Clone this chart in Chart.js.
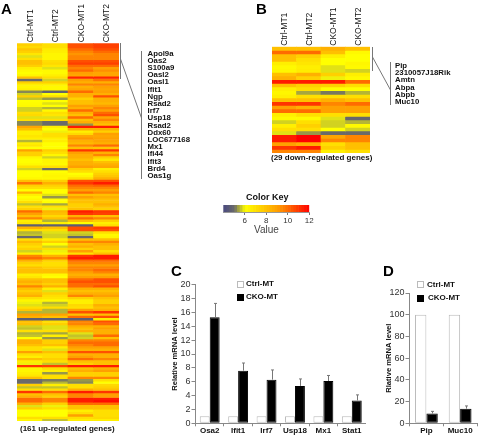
<!DOCTYPE html>
<html>
<head>
<meta charset="utf-8">
<script src="https://cdn.jsdelivr.net/npm/chart.js@4"></script>
<style>
html,body{margin:0;padding:0;background:#fff;width:478px;height:435px;overflow:hidden}
body{position:relative;font-family:"Liberation Sans",Arial,sans-serif;color:#111}
canvas{position:absolute}
canvas.heat{filter:blur(.6px)}
.t{position:absolute;white-space:nowrap;line-height:1}
.panel{font-weight:bold;font-size:15px;color:#000}
.gene{font-weight:bold;font-size:7.8px}
.cap{font-weight:bold;font-size:8px}
.leg{font-weight:bold;font-size:8px}
.box{position:absolute;width:7px;height:7px;border:1px solid #bbb;box-sizing:border-box;background:#fff}
.box.k{background:#000;border-color:#000}
svg{position:absolute;left:0;top:0}
</style>
</head>
<body>
<canvas id="heatA" class="heat"></canvas>
<canvas id="heatB" class="heat"></canvas>
<canvas id="keyChart"></canvas>
<canvas id="barC"></canvas>
<canvas id="barD"></canvas>

<svg width="478" height="435" stroke="#777" stroke-width="1">
  <line x1="120.5" y1="43" x2="120.5" y2="79"/>
  <line x1="120.5" y1="59" x2="141.5" y2="118"/>
  <line x1="141.5" y1="51" x2="141.5" y2="179"/>
  <line x1="372.5" y1="47" x2="372.5" y2="71"/>
  <line x1="372.5" y1="57" x2="390.5" y2="90"/>
  <line x1="390.5" y1="62" x2="390.5" y2="105"/>
</svg>

<div class="t panel" style="left:1px;top:1px">A</div>
<div class="t panel" style="left:256px;top:1px">B</div>
<div class="t panel" style="left:171px;top:263px">C</div>
<div class="t panel" style="left:383px;top:263px">D</div>

<div class="t cap" style="left:20px;top:425px">(161 up-regulated genes)</div>
<div class="t cap" style="left:271px;top:154px">(29 down-regulated genes)</div>
<div class="t" style="left:246px;top:193px;font-weight:bold;font-size:9px">Color Key</div>
<div class="t" style="left:254px;top:225px;font-size:10px;color:#444">Value</div>

<div class="box" style="left:237px;top:281px"></div>
<div class="t leg" style="left:246px;top:280px">Ctrl-MT</div>
<div class="box k" style="left:237px;top:294px"></div>
<div class="t leg" style="left:246px;top:293px">CKO-MT</div>
<div class="box" style="left:417px;top:281px"></div>
<div class="t leg" style="left:427px;top:281px">Ctrl-MT</div>
<div class="box k" style="left:417px;top:295px"></div>
<div class="t leg" style="left:428px;top:294px">CKO-MT</div>

<script>
var sampleLabels = ['Ctrl-MT1','Ctrl-MT2','CKO-MT1','CKO-MT2'];

// panel A, one list per column, top row first
var upCtrl1 = [7.5,7.2,7.8,7.5,6.8,5.8,7,8,8,7.5,
  6.5,6.2,6,6.3,8,5,7.5,6.5,6.3,6.5,
  5.2,5.7,7.5,5.6,6,6.1,6.2,5.7,5.7,7,
  7.2,5.8,7,5.2,5.2,8.8,8,6.5,6.5,6.8,
  6.5,5.5,6.5,6.8,6,9,7.5,7.5,6.3,6,
  6,6.2,7,5.7,6,6,6,6.2,8,9.8,
  7.5,7,6,8.5,6.5,6,6.3,7,5.6,7,
  7.5,10,9,8,9.5,6.5,6.8,4.7,8.5,7,
  5.5,5.6,4.9,7,8.2,7.5,7,7.5,5.7,6.5,
  9.5,10,8.5,7.5,7,8,8,8,6.5,6.8,
  8,8.5,8,9.5,8,7.5,8,8.5,7,6.3,
  5.9,5.8,7,7.8,5.5,9,8.5,4.6,8,8,
  5.7,5.6,7,5.5,5.6,6,8.5,8.5,8,7,
  7,9,7,6.5,8,6.5,5.9,11,6.3,6.3,
  6.5,6.8,8,5,5,7.5,5.6,7,11,8,
  8.5,10,10,8.5,5.8,7.5,6,6,6,7,6.3];
var upCtrl2 = [7,7,6.6,6.5,6.3,6.3,6.3,7,7.2,6.8,
  5.8,6.2,6.2,6.5,7,5.7,7.5,6.5,6.2,6.2,
  4.8,6,7,5.3,6,5.8,6,5.5,6.2,7,
  6.8,5.8,7,5,5,6.5,6,5.9,7,7,
  6.5,6.5,6,6,6,7.5,7,6.3,5.7,6.3,
  6.3,6.2,7,5,6,6.2,6.3,6.2,7.5,8.5,
  7.5,7,6,6,5.8,5.3,6,6,5.4,7,
  5.9,8.3,8,7.2,8,5.5,6.5,4.7,8,7,
  5.8,5.7,5.7,6.5,7.5,6,5.7,7,5.9,6.3,
  8.5,9.5,7.5,7,7,7.5,8,8,6.2,6,
  8,8,7.5,8.5,6.5,5.8,7.5,7,6.8,6.2,
  5.5,5.7,7,5.5,5.5,9,8,4.6,7,7.5,
  5.8,5.8,7,5.4,6.5,5.3,7.5,7.5,8,6.5,
  5.8,8,7,7,7.5,7,5.6,10.8,7,6.5,
  5.3,7,7,5.1,5.5,6.5,5.6,7,10,8,
  7.5,9.5,9.5,7.5,5.9,7,6,6,6,7,5.6];
var upCko1 = [10.5,10.5,10,9.5,9.2,9.5,9.5,10.5,10.8,10,
  9.5,10,9,8.8,11.3,9,8.5,9.5,8.5,8.8,
  10,8.5,8.5,7.5,8,8,9,8.5,10,8.5,
  8,10,8,8.5,5.3,11.5,8.5,6.5,7.2,8.8,
  9.2,8.5,8.2,9.5,8,11,9,8.5,8.5,8,
  8.5,8.5,9,7.5,7,6,6.3,7,10.5,11,
  10,9.5,9,10,8,9,8,8,7.5,7.5,
  8,11.5,11,8.5,10,8,6,4.6,10.5,10.5,
  5.7,5.6,4.9,8,9.5,8,8.5,7.5,9,7,
  11,11.5,10,9.5,9,9.5,9.5,9,8.5,9,
  10,10.5,10,10,8.5,8,8.5,9.5,7.5,6.5,
  6.5,7.2,7,9,10.5,8,10,4.6,9.5,9.5,
  8.5,8,8.5,5.8,5.6,5.7,9.5,10,9.5,9,
  8.5,10.5,8.5,9,10,8,7.5,11.5,8,8.5,
  7.5,7.5,9.5,5.3,5.2,7,7,8.5,11.5,9.5,
  9.5,11.5,11.5,10,8,8,6.5,7,9,7,6.5];
var upCko2 = [10.8,10.8,10.5,10,9.5,9.5,9.5,10.5,10.8,10,
  9,9.3,8.8,8.8,11.3,9.8,8.5,9.5,9,8.8,
  9,8.5,10.5,8.5,8.5,8.2,9,9.5,9,10,
  10.5,8.8,9.5,8.5,8,11.5,8.5,7.5,9,8.8,
  9,8.8,8.5,10,7.8,11,8.5,9.5,7.5,6.8,
  8,8.5,8.8,6.5,7,7.5,7.8,8.5,10.5,11.5,
  10.2,9.5,9,9.5,8,8.5,8,8,8.5,8,
  7.5,11,10.8,8,9.5,7.5,6.5,7,10.8,10.5,
  7,6.2,6.3,8,9.5,8.5,8,8,7,8,
  11.5,11.5,10,9.5,9,9.5,10,9.5,8.5,9,
  10.5,10.5,10,10.5,8.5,8,8.5,9,8,7.5,
  7.5,8.5,8,8.5,11,8,10.5,6.5,10.5,10,
  8.5,9,8.5,8.5,10,8,9.5,10,10,9,
  8.5,10.5,8.5,8.5,9.5,8,8,11.5,8.5,9,
  7.5,7.5,9.5,7,6,7.2,7.5,8,11,9,
  9,11.5,11.8,10,8,8,7,7,7,7.2,6.5];

// panel B
var downCtrl1 = [8,10,8,8,6.5,6.2,6.3,8,8.5,11.5,8,6.5,6.3,6.5,8,11,9,10,6.5,6.2,5.7,6.5,7,5.8,11.5,11.5,9,11,9.5];
var downCtrl2 = [8,10,7.5,7,6.8,6.5,6.6,8.5,7.5,11.5,7.5,7,5.4,7,8,11,8.5,10,7,6.2,7,7.5,7,5.3,12,12,8.5,11.5,9.5];
var downCko1 = [8.5,8,6.5,6,6,5.8,5.8,7.5,5.9,11.5,7.5,6,5.1,7,8.5,9.5,9,9,7,5.8,5.7,5.7,6,5,8.8,9.5,7,7.5,6.5];
var downCko2 = [8,6.2,6,6,6.3,6.2,5.7,6.5,6.2,10,7,6,5.5,7,8,10,9,9,7,4.9,5.5,6.2,5.7,5,9.5,9.5,8,8,7];

var upGenes = ['Apol9a','Oas2','S100a9','Oasl2','Oasl1','Ifit1','Ngp','Rsad2','Irf7','Usp18','Rsad2','Ddx60','LOC677168','Mx1','Ifi44','Ifit3','Brd4','Oas1g'];
var downGenes = ['Pip','2310057J18Rik','Amtn','Abpa','Abpb','Muc10'];

// colour key
var keySteps = [4,4.25,4.5,4.75,5,5.25,5.5,5.75,6,6.25,6.5,6.75,7,7.25,7.5,7.75,8,8.25,8.5,8.75,9,9.25,9.5,9.75,10,10.25,10.5,10.75,11,11.25,11.5,11.75];
var keyTicks = [6,8,10,12];

// panel C
var qpcrGenes = ['Osa2','Ifit1','Irf7','Usp18','Mx1','Stat1'];
var qpcrCtrl = [1,1,1,1,1,1];
var qpcrCko = [15.3,7.6,6.3,5.4,6.1,3.3];
var qpcrCkoTop = [17.3,8.7,7.7,6.4,6.9,4.1];

// panel D
var downQpcrGenes = ['Pip','Muc10'];
var downQpcrCtrl = [100,100];
var downQpcrCko = [9,13.5];
var downQpcrCkoTop = [11,16];

Chart.defaults.font.family = '"Liberation Sans", Arial, sans-serif';
Chart.defaults.animation = false;
Chart.defaults.responsive = false;
Chart.defaults.plugins.legend.display = false;
Chart.defaults.plugins.tooltip.enabled = false;

var colorStops = [[4,74,74,128],[5,106,106,106],[6,255,255,0],[9,255,160,0],[12,255,0,0]];
function heatColor(v){
  for(var i=1;i<colorStops.length;i++){
    if(v<=colorStops[i][0]){
      var a=colorStops[i-1], b=colorStops[i], f=(v-a[0])/(b[0]-a[0]);
      return 'rgb('+Math.round(a[1]+(b[1]-a[1])*f)+','+Math.round(a[2]+(b[2]-a[2])*f)+','+Math.round(a[3]+(b[3]-a[3])*f)+')';
    }
  }
  return 'rgb(255,0,0)';
}

function place(id,left,top,w,h){
  var c=document.getElementById(id);
  c.width=w; c.height=h;
  c.style.left=left+'px'; c.style.top=top+'px';
  c.style.width=w+'px'; c.style.height=h+'px';
  return c;
}

function makeHeat(id,left,plotTop,w,plotBottom,cols,labelSize){
  var c=place(id,left,0,w,plotBottom);
  var nRows=cols[0].length, sets=[];
  for(var r=0;r<nRows;r++){
    var vals=cols.map(function(col){return col[r];});
    sets.push({
      data:vals.map(function(){return 1;}),
      backgroundColor:vals.map(heatColor),
      borderWidth:0,
      barPercentage:1,
      categoryPercentage:1
    });
  }
  return new Chart(c.getContext('2d'),{
    type:'bar',
    data:{labels:sampleLabels,datasets:sets},
    options:{
      layout:{padding:0},
      scales:{
        x:{stacked:true,position:'top',
          border:{display:false},
          grid:{display:false},
          afterFit:function(s){s.height=plotTop;},
          // rotated top labels sit left of the tick and too high, pulled back here
          ticks:{minRotation:90,maxRotation:90,autoSkip:false,padding:-7,labelOffset:11,color:'#111',font:{size:labelSize}}},
        y:{stacked:true,display:false,reverse:true,min:0,max:nRows}
      }
    }
  });
}

makeHeat('heatA',17,43.3,102,421,[upCtrl1,upCtrl2,upCko1,upCko2],8.5);
makeHeat('heatB',272,46.7,98,153,[downCtrl1,downCtrl2,downCko1,downCko2],8.5);

new Chart(place('keyChart',215,200,105,32).getContext('2d'),{
  type:'bar',
  data:{
    labels:['key'],
    datasets:keySteps.map(function(v,i){
      return {
        data:[[v,i+1<keySteps.length?keySteps[i+1]:12]],
        backgroundColor:heatColor(v+0.125),
        borderWidth:0,
        grouped:false,
        barPercentage:1,
        categoryPercentage:1
      };
    })
  },
  options:{
    indexAxis:'y',
    layout:{padding:{left:8.3,right:10.7,top:5}},
    scales:{
      x:{type:'linear',min:4,max:12,
        border:{color:'#999'},
        grid:{drawOnChartArea:false,tickLength:3,tickColor:'#777'},
        afterBuildTicks:function(s){s.ticks=keyTicks.map(function(v){return {value:v};});},
        afterFit:function(s){s.height=20;},
        ticks:{autoSkip:false,maxRotation:0,padding:1,color:'#333',font:{size:8}}},
      y:{display:false}
    }
  }
});

// error bars, upper arm only, on the CKO bars
var errorBars={
  id:'errorBars',
  afterDatasetsDraw:function(chart,args,opts){
    var ctx=chart.ctx, meta=chart.getDatasetMeta(1), y=chart.scales.y;
    ctx.save();
    ctx.strokeStyle='#777';
    ctx.lineWidth=1;
    meta.data.forEach(function(bar,i){
      var top=y.getPixelForValue(opts.tops[i]), x=Math.round(bar.x)+0.5;
      ctx.beginPath();
      ctx.moveTo(x,bar.y);
      ctx.lineTo(x,top);
      ctx.moveTo(x-1.5,top);
      ctx.lineTo(x+1.5,top);
      ctx.stroke();
    });
    ctx.restore();
  }
};

function makeBars(id,left,top,w,h,opt){
  return new Chart(place(id,left,top,w,h).getContext('2d'),{
    type:'bar',
    plugins:[errorBars],
    data:{
      labels:opt.labels,
      datasets:[
        {data:opt.ctrl,backgroundColor:'#fff',borderColor:'#bbb',borderWidth:1,borderSkipped:false,barPercentage:1,categoryPercentage:opt.cat},
        {data:opt.cko,backgroundColor:'#000',borderColor:'#000',borderWidth:1,borderSkipped:false,barPercentage:1,categoryPercentage:opt.cat}
      ]
    },
    options:{
      layout:{padding:{top:opt.padTop,right:opt.padRight}},
      plugins:{errorBars:{tops:opt.tops}},
      scales:{
        x:{
          border:{color:'#888'},
          grid:{drawOnChartArea:false,tickLength:3,tickColor:'#888',offset:true},
          afterFit:function(s){s.height=h-opt.padTop-opt.plotH;},
          ticks:{padding:0,maxRotation:0,autoSkip:false,color:'#111',font:{size:8,weight:'bold'}}},
        y:{
          min:0,max:opt.max,
          border:{color:'#888'},
          grid:{drawOnChartArea:false,tickLength:4,tickColor:'#888'},
          afterFit:function(s){s.width=opt.axisW;},
          title:{display:true,text:opt.title,color:'#111',padding:{top:opt.titlePad,bottom:0},font:{size:7.6,weight:'bold'}},
          ticks:{stepSize:opt.step,padding:1,color:'#333',font:{size:9}}}
      }
    }
  });
}

makeBars('barC',160,276,206,159,{
  labels:qpcrGenes,ctrl:qpcrCtrl,cko:qpcrCko,tops:qpcrCkoTop,
  cat:0.7,max:20,step:2,title:'Relative mRNA level',
  axisW:35.5,titlePad:10,padTop:8.7,padRight:0,plotH:138.6
});
makeBars('barD',378,286,100,149,{
  labels:downQpcrGenes,ctrl:downQpcrCtrl,cko:downQpcrCko,tops:downQpcrCkoTop,
  cat:0.675,max:120,step:20,title:'Rlative mRNA level',
  axisW:31.5,titlePad:6,padTop:7,padRight:1,plotH:130.3
});

// gene lists beside the heatmaps
function geneList(list,left,top,step){
  list.forEach(function(g,i){
    var d=document.createElement('div');
    d.className='t gene';
    d.textContent=g;
    d.style.left=left+'px';
    d.style.top=(top+i*step)+'px';
    document.body.appendChild(d);
  });
}
geneList(upGenes,147.5,49.5,7.2);
geneList(downGenes,395,62,7.2);
</script>
</body>
</html>
